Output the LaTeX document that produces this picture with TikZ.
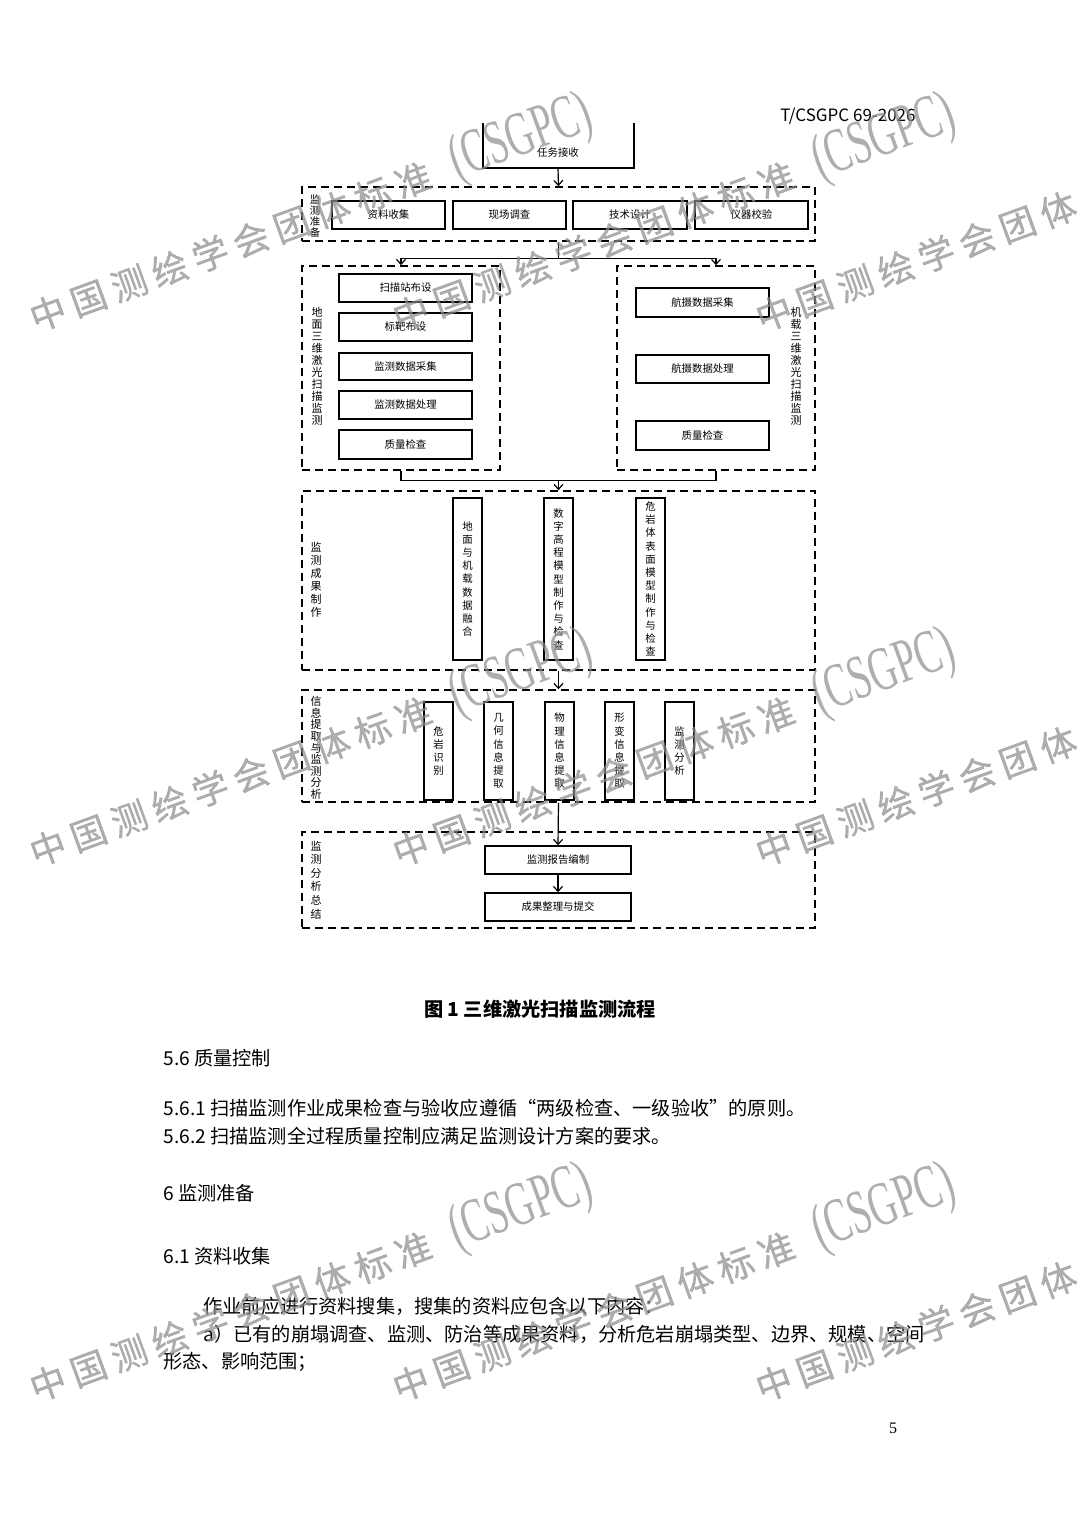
\documentclass[tikz,border=0pt]{standalone}
\usepackage{fontspec}
\usepackage{graphicx}
\setmainfont{Noto Sans CJK SC}
\newfontfamily\wmserif{Liberation Serif}
\newfontfamily\wmfont[LetterSpace=20,FakeBold=0.6]{Noto Sans CJK SC}
\usetikzlibrary{arrows.meta}
\newcommand\Bx[7]{\node[#1, minimum width={(#4-#2)*0.5pt}, minimum height={(#5-#3)*0.5pt}] (#6) at ({(#2+#4)/2},{(#3+#5)/2}) {#7};}
\begin{document}
\begin{tikzpicture}[x=0.5pt,y=-0.5pt,
 box/.style={draw, line width=0.75pt, inner sep=0pt, align=center, font=\fontsize{5.2}{6.6}\selectfont},
 grp/.style={draw, line width=0.8pt, dash pattern=on 4pt off 2.5pt, inner sep=0pt},
 lbl/.style={inner sep=0pt, align=center},
 arr/.style={line width=0.6pt, -{Straight Barb[length=2.5pt,width=4.5pt]}},
 ln/.style={line width=0.6pt},
 wm/.style={rotate=20, anchor=south west, inner sep=0pt, text=black!45, opacity=0.7, font=\wmfont\fontsize{18}{18}\selectfont},
 body/.style={anchor=west, inner sep=0pt, font=\fontsize{9.6}{10}\selectfont},
]
\useasboundingbox (0,0) rectangle (1080,1528);
\fill[white] (0,0) rectangle (1080,1528);

% header
\node[anchor=east, inner sep=0pt, font=\fontsize{8.5}{9}\selectfont] (hdr) at (916,116) {T/CSGPC 69-2026};

% task
\draw[ln] (483,123) -- (483,168) -- (634,168) -- (634,123);
\node[lbl, font=\fontsize{5.2}{6}\selectfont] (taskt) at (558,153) {任务接收};
\coordinate (task) at (558,168);

% preparation
\Bx{grp}{302}{187}{815}{241}{prep}{}
\node[lbl, font=\fontsize{5.2}{5.5}\selectfont] (prepl) at (315,216) {监\\测\\准\\备};
\Bx{box}{332}{201}{445}{229}{b1}{资料收集}
\Bx{box}{453}{201}{566}{229}{b2}{现场调查}
\Bx{box}{573}{201}{687}{229}{b3}{技术设计}
\Bx{box}{695}{201}{808}{229}{b4}{仪器校验}
\draw[arr] (task) -- (prep.north);

% ground group
\Bx{grp}{302}{266}{500}{470}{ground}{}
\node[lbl, font=\fontsize{5.5}{6}\selectfont] (groundl) at (317,366) {地\\面\\三\\维\\激\\光\\扫\\描\\监\\测};
\Bx{box}{339}{274}{472}{302}{g1}{扫描站布设}
\Bx{box}{339}{313}{472}{341}{g2}{标靶布设}
\Bx{box}{339}{353}{472}{380}{g3}{监测数据采集}
\Bx{box}{339}{391}{472}{419}{g4}{监测数据处理}
\Bx{box}{339}{430}{472}{459}{g5}{质量检查}

% airborne group
\Bx{grp}{617}{266}{815}{470}{air}{}
\node[lbl, font=\fontsize{5.5}{6}\selectfont] (airl) at (796,366) {机\\载\\三\\维\\激\\光\\扫\\描\\监\\测};
\Bx{box}{636}{288}{769}{317}{a1}{航摄数据采集}
\Bx{box}{636}{355}{769}{383}{a2}{航摄数据处理}
\Bx{box}{636}{421}{769}{450}{a3}{质量检查}

\draw[arr] (prep.south) -- ++(0,17) -| (ground.north);
\draw[arr] (prep.south) -- ++(0,17) -| (air.north);

% production
\Bx{grp}{302}{491}{815}{670}{prod}{}
\draw[ln] (ground.south) -- ++(0,10) -| (air.south);
\coordinate (mj) at (558.5,480);
\draw[arr] (mj) -- (prod.north);
\node[lbl, font=\fontsize{5.5}{6.5}\selectfont] (prodl) at (316,580) {监\\测\\成\\果\\制\\作};
\Bx{box}{453}{498}{482}{660}{p1}{地\\面\\与\\机\\载\\数\\据\\融\\合}
\Bx{box}{544}{498}{573}{660}{p2}{数\\字\\高\\程\\模\\型\\制\\作\\与\\检\\查}
\Bx{box}{636}{498}{665}{660}{p3}{危\\岩\\体\\表\\面\\模\\型\\制\\作\\与\\检\\查}

% information
\Bx{grp}{302}{690}{815}{802}{info}{}
\draw[arr] (prod.south) -- (info.north);
\node[lbl, font=\fontsize{5.5}{5.8}\selectfont] (infol) at (316,748) {信\\息\\提\\取\\与\\监\\测\\分\\析};
\Bx{box}{424}{702}{453}{800}{i1}{危\\岩\\识\\别}
\Bx{box}{484}{702}{513}{800}{i2}{几\\何\\信\\息\\提\\取}
\Bx{box}{545}{702}{574}{800}{i3}{物\\理\\信\\息\\提\\取}
\Bx{box}{605}{702}{634}{800}{i4}{形\\变\\信\\息\\提\\取}
\Bx{box}{665}{702}{694}{800}{i5}{监\\测\\分\\析}

% summary
\Bx{grp}{302}{832}{815}{928}{summ}{}
\node[lbl, font=\fontsize{5.5}{6.8}\selectfont] (summl) at (316,880) {监\\测\\分\\析\\总\\结};
\Bx{box}{485}{846}{631}{874}{s1}{监测报告编制}
\Bx{box}{485}{893}{631}{921}{s2}{成果整理与提交}
\draw[arr] (info.south) -- (s1.north);
\draw[arr] (s1.south) -- (s2.north);

% caption and text
\node[inner sep=0pt, font=\fontsize{9.6}{10}\selectfont\bfseries] (cap) at (540,1009) {图 1 三维激光扫描监测流程};
\node[body] (t1) at (163,1058) {5.6 质量控制};
\node[body] (t2) at (163,1108) {5.6.1 扫描监测作业成果检查与验收应遵循“两级检查、一级验收”的原则。};
\node[body] (t3) at (163,1136) {5.6.2 扫描监测全过程质量控制应满足监测设计方案的要求。};
\node[body] (t4) at (163,1193) {6 监测准备};
\node[body] (t5) at (163,1256) {6.1 资料收集};
\node[body] (t6) at (203,1306) {作业前应进行资料搜集，搜集的资料应包含以下内容：};
\node[body] (t7) at (203,1334) {a）已有的崩塌调查、监测、防治等成果资料，分析危岩崩塌类型、边界、规模、空间};
\node[body] (t8) at (163,1362) {形态、影响范围；};
\node[inner sep=0pt, font=\wmserif\fontsize{8}{9}\selectfont] (pg) at (893,1428) {5};

% watermarks
\foreach \wx/\wy [count=\k] in {40/345, 403/345, 766/345, 40/880, 403/880, 766/880, 40/1415, 403/1415, 766/1415}{
  \node[wm] (wm\k) at (\wx,\wy) {中国测绘学会团体标准\hspace{12pt}\scalebox{0.8}[1.3]{\wmserif\fontsize{24}{24}\selectfont (CSGPC)}};
}
\end{tikzpicture}
\end{document}
